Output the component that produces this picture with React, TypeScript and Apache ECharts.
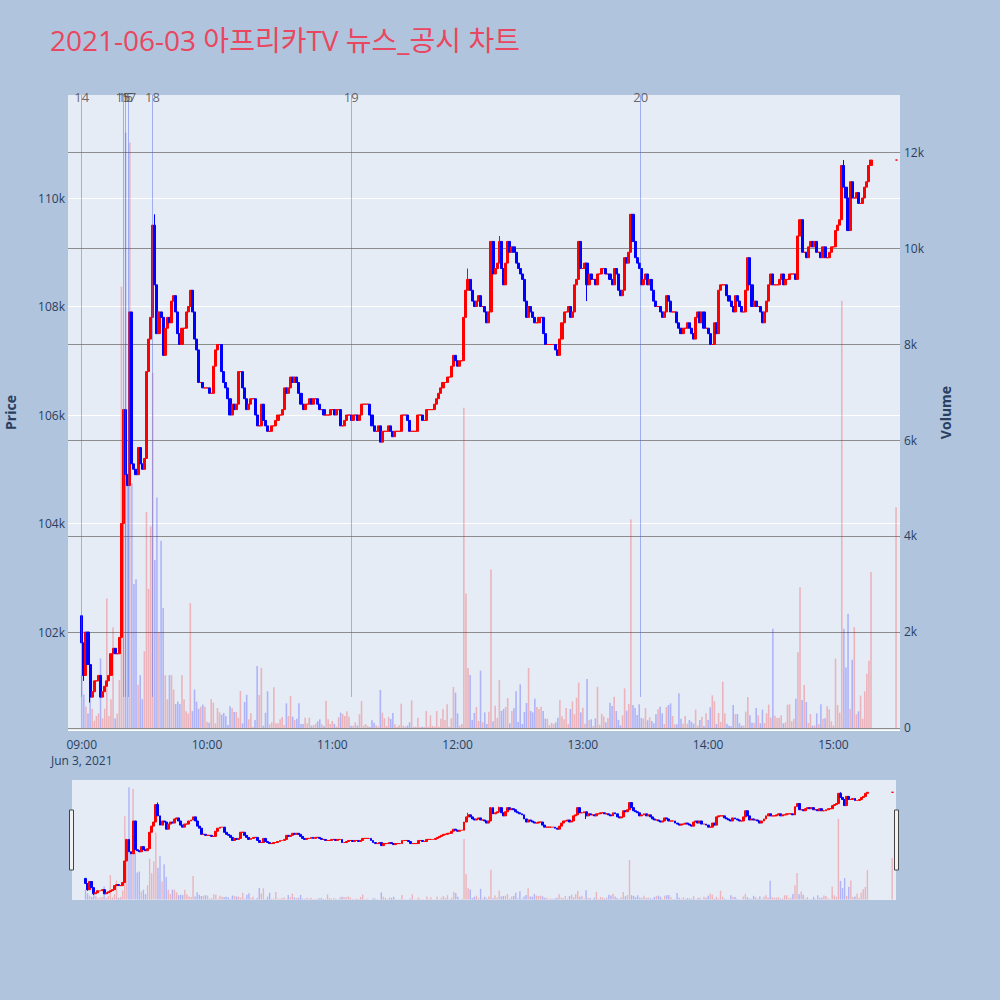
import React, { useEffect, useRef } from 'react';
import * as echarts from 'echarts';

const TITLE = '2021-06-03 아프리카TV 뉴스_공시 차트';
const SESSION_START = Date.UTC(2021, 5, 3, 9, 0);
const MINUTE = 60000;
const FIRST_OPEN = 1023; // hundreds of won

// 1-minute closes from 09:00 to 15:18, in hundreds of won
const closes = [
  1018, 1012, 1020, 1014, 1008, 1009, 1011, 1011, 1012, 1008,
  1009, 1010, 1011, 1012, 1016, 1017, 1016, 1016, 1019, 1040,
  1061, 1049, 1047, 1079, 1051, 1050, 1049, 1054, 1051, 1050,
  1052, 1068, 1074, 1078, 1095, 1084, 1075, 1079, 1078, 1071,
  1076, 1078, 1077, 1081, 1082, 1079, 1075, 1073, 1076, 1076,
  1079, 1080, 1083, 1079, 1074, 1072, 1066, 1066, 1065, 1065,
  1065, 1064, 1064, 1069, 1072, 1073, 1073, 1068, 1066, 1065,
  1063, 1060, 1062, 1061, 1062, 1068, 1068, 1065, 1063, 1061,
  1062, 1063, 1063, 1060, 1058, 1058, 1062, 1059, 1058, 1057,
  1057, 1058, 1058, 1059, 1060, 1060, 1061, 1065, 1064, 1065,
  1067, 1066, 1067, 1066, 1064, 1062, 1061, 1062, 1062, 1063,
  1062, 1063, 1063, 1062, 1061, 1061, 1060, 1060, 1060, 1061,
  1061, 1060, 1061, 1061, 1058, 1058, 1059, 1060, 1060, 1059,
  1060, 1060, 1059, 1060, 1062, 1062, 1062, 1062, 1060, 1058,
  1057, 1057, 1058, 1055, 1057, 1057, 1057, 1058, 1057, 1056,
  1057, 1057, 1057, 1060, 1060, 1060, 1059, 1057, 1057, 1057,
  1057, 1060, 1060, 1059, 1059, 1061, 1061, 1061, 1061, 1062,
  1063, 1064, 1065, 1066, 1066, 1067, 1067, 1069, 1071, 1070,
  1069, 1070, 1070, 1078, 1083, 1085, 1083, 1081, 1080, 1081,
  1082, 1080, 1080, 1079, 1077, 1079, 1092, 1086, 1087, 1088,
  1092, 1087, 1084, 1088, 1092, 1090, 1091, 1090, 1088, 1087,
  1086, 1085, 1081, 1078, 1080, 1079, 1078, 1077, 1077, 1078,
  1078, 1075, 1073, 1073, 1073, 1073, 1073, 1072, 1071, 1074,
  1077, 1079, 1079, 1080, 1078, 1079, 1084, 1085, 1092, 1087,
  1087, 1088, 1084, 1086, 1085, 1085, 1084, 1086, 1086, 1087,
  1087, 1086, 1086, 1085, 1084, 1087, 1086, 1083, 1082, 1083,
  1089, 1088, 1090, 1097, 1092, 1089, 1088, 1087, 1084, 1085,
  1086, 1084, 1085, 1083, 1081, 1080, 1080, 1079, 1078, 1079,
  1082, 1081, 1079, 1079, 1079, 1077, 1076, 1075, 1076, 1076,
  1077, 1076, 1075, 1074, 1078, 1079, 1077, 1079, 1076, 1076,
  1075, 1073, 1073, 1077, 1075, 1083, 1084, 1084, 1084, 1082,
  1081, 1080, 1079, 1082, 1081, 1080, 1079, 1079, 1083, 1089,
  1084, 1080, 1081, 1080, 1080, 1079, 1077, 1079, 1081, 1084,
  1086, 1084, 1084, 1084, 1085, 1086, 1084, 1085, 1085, 1086,
  1086, 1086, 1085, 1093, 1096, 1090, 1090, 1089, 1091, 1092,
  1091, 1092, 1090, 1090, 1089, 1091, 1089, 1089, 1090, 1091,
  1091, 1094, 1095, 1096, 1106, 1102, 1100, 1094, 1103, 1100,
  1100, 1101, 1099, 1099, 1100, 1102, 1103, 1106, 1107,
];

// 1-minute volumes, same minutes as closes
const volumes = [
  1100, 700, 450, 300, 650, 400, 150, 250, 300, 1450,
  200, 400, 2700, 250, 600, 2100, 200, 300, 1000, 9200,
  6500, 12400, 5300, 12200, 5100, 3000, 3100, 900, 1100, 600,
  1600, 4500, 2900, 4200, 7400, 3500, 4800, 2000, 3900, 2500,
  1100, 600, 1100, 1100, 800, 500, 550, 500, 1100, 600,
  350, 300, 2600, 350, 800, 550, 400,
  444, 490, 444, 130, 111, 600, 528, 97, 416, 326,
  278, 313, 250, 60, 451, 410, 333, 333, 215, 770,
  97, 542, 694, 180, 305, 28, 167, 1292, 687, 1250,
  49, 319, 764, 76, 118, 847, 97, 97, 180, 229,
  60, 514, 250, 666, 236, 167, 194, 514, 83, 83,
  215, 97, 215, 49, 62, 90, 139, 180, 76, 42,
  569, 180, 83, 146, 83, 28, 222, 319, 291, 250,
  347, 236, 49, 49, 118, 49, 285, 562, 49, 83,
  42, 21, 160, 111, 55, 28, 791, 319, 201, 42,
  229, 187, 312, 76, 28, 55, 507, 49, 28, 49,
  118, 576, 28, 28, 215, 20, 28, 21, 354, 28,
  264, 42, 28, 354, 28, 194, 389, 167, 493, 28,
  201, 854, 736, 305, 49, 83, 6670, 2800, 1250, 1104,
  167, 312, 437, 146, 1194, 118, 326, 83, 340, 3300,
  139, 465, 208, 1000, 354, 396, 437, 625, 97, 354,
  410, 764, 125, 910, 83, 333, 520, 1250, 354, 326,
  610, 437, 396, 444, 354, 194, 194, 60, 111, 83,
  118, 215, 583, 243, 180, 416, 83, 396, 555, 285,
  632, 945, 326, 423, 90, 1020, 167, 180, 42, 201,
  860, 69, 298, 243, 118, 208, 527, 458, 650, 354,
  167, 55, 264, 826, 361, 500, 4350, 479, 417, 271,
  493, 208, 194, 417, 160, 222, 146, 97, 285,
  389, 444, 305, 83, 437, 479, 513, 250, 76, 76,
  722, 194, 90, 250, 90, 167, 132, 90, 382, 49,
  167, 229, 42, 305, 167, 431, 680, 555, 83, 312,
  125, 965, 305, 90, 49, 35, 479, 292, 292, 97,
  49, 49, 340, 645, 264, 111, 104, 417, 264, 97,
  382, 104, 305, 486, 215, 2070, 257, 208, 215, 264,
  97, 118, 486, 493, 139, 194, 610, 1580, 2930, 583,
  895, 542, 104, 292, 49, 49, 305, 76, 493, 194,
  201, 451, 389, 139, 49, 1445, 479, 319, 8900, 2070,
  1260, 2380, 396, 1420, 2100, 285, 347, 675, 194, 764,
  1130, 1400, 3250,
];

// closing auction at 15:30
const auctionMinute = 390;
const auctionPrice = 1107;
const auctionVolume = 4600;

// visible wicks beyond the bodies (hundreds of won)
const highWicks: Record<number, number> = { 0: 1023, 35: 1097, 185: 1087, 200: 1093, 238: 1092, 263: 1097, 344: 1096, 365: 1107 };
const lowWicks: Record<number, number> = { 1: 1011, 4: 1007, 143: 1055, 242: 1081, 367: 1094 };

// news / disclosure markers
const newsLabels = ['14', '15', '16', '17', '18', '19', '20'];
const newsMinutes = [0, 19.7, 20.9, 22.5, 33.9, 129.1, 267.7];

const P_MIN = 100194;
const P_MAX = 111899;
const V_MIN = -42;
const V_MAX = 13188;
const X_MIN = SESSION_START - 6.2 * MINUTE;
const X_MAX = SESSION_START + 391.5 * MINUTE;

const FONT = '"Open Sans", "Noto Sans CJK KR", sans-serif';
const UP = '#ff0000';
const DOWN = '#0000ff';
const VOL_UP = 'rgba(255,0,0,0.24)';
const VOL_DOWN = 'rgba(0,0,255,0.24)';
const AXIS_TEXT = '#2a3f5f';

function buildRows() {
  const rows = closes.map((c, i) => {
    const o = i === 0 ? FIRST_OPEN : closes[i - 1];
    const h = Math.max(o, c, highWicks[i] ?? 0);
    const l = Math.min(o, c, lowWicks[i] ?? Infinity);
    return { t: SESSION_START + i * MINUTE, o: o * 100, c: c * 100, l: l * 100, h: h * 100, v: volumes[i] ?? 0, up: c >= o };
  });
  rows.push({
    t: SESSION_START + auctionMinute * MINUTE,
    o: auctionPrice * 100, c: auctionPrice * 100, l: auctionPrice * 100, h: auctionPrice * 100,
    v: auctionVolume, up: true,
  });
  return rows;
}

export default function App() {
  const ref = useRef<HTMLDivElement>(null);
  useEffect(() => {
    if (!ref.current) return;
    const chart = echarts.init(ref.current, undefined, { renderer: 'svg' });
    const rows = buildRows();
    const candleData = rows.map((r) => [r.t, r.o, r.c, r.l, r.h]);
    const volData = rows.map((r) => ({ value: [r.t, r.v], itemStyle: { color: r.up ? VOL_UP : VOL_DOWN } }));
    const newsT = newsMinutes.map((m) => SESSION_START + m * MINUTE);

    const fmtTime = (val: number) => {
      const d = new Date(val);
      const s = `${String(d.getUTCHours()).padStart(2, '0')}:${String(d.getUTCMinutes()).padStart(2, '0')}`;
      return val === SESSION_START ? `${s}\nJun 3, 2021` : s;
    };

    const candleStyle = { color: UP, color0: DOWN, borderColor: UP, borderColor0: DOWN, borderWidth: 1 };

    const option: any = {
      animation: false,
      useUTC: true,
      backgroundColor: '#b0c4de',
      textStyle: { fontFamily: FONT },
      title: {
        text: TITLE, left: 45, top: 21,
        textStyle: { color: '#e8475f', fontSize: 28, fontWeight: 'normal', fontFamily: FONT },
      },
      grid: [
        { left: 68, right: 100, top: 95, bottom: 270, show: true, backgroundColor: '#e5ecf6', borderWidth: 0, outerBoundsMode: 'none' },
        { left: 72, right: 104, top: 780, bottom: 100, show: true, backgroundColor: '#e5ecf6', borderWidth: 0, outerBoundsMode: 'none' },
      ],
      xAxis: [
        {
          type: 'time', gridIndex: 0, min: X_MIN, max: X_MAX, splitNumber: 7,
          minInterval: 3600000, maxInterval: 3600000,
          axisLine: { show: false }, axisTick: { show: false }, splitLine: { show: false },
          axisLabel: {
            formatter: fmtTime, color: AXIS_TEXT, fontSize: 12, margin: 6, lineHeight: 16,
            showMinLabel: false, showMaxLabel: false, fontFamily: FONT,
          },
        },
        { type: 'time', gridIndex: 1, min: X_MIN, max: X_MAX, show: false },
      ],
      yAxis: [
        {
          type: 'value', gridIndex: 0, min: P_MIN, max: P_MAX, splitNumber: 6, position: 'left',
          name: 'Price', nameLocation: 'middle', nameGap: 51, nameRotate: 90,
          nameTextStyle: { color: AXIS_TEXT, fontSize: 14, fontWeight: 'bold', fontFamily: FONT },
          axisLine: { show: false }, axisTick: { show: false },
          axisLabel: {
            formatter: (v: number) => `${Math.round(v / 1000)}k`, color: AXIS_TEXT, fontSize: 12, margin: 3,
            showMinLabel: false, showMaxLabel: false, fontFamily: FONT,
          },
          splitLine: { show: true, showMaxLine: false, lineStyle: { color: '#ffffff', width: 1 } },
        },
        {
          type: 'value', gridIndex: 0, min: V_MIN, max: V_MAX, splitNumber: 6, position: 'right',
          name: 'Volume', nameLocation: 'middle', nameGap: 38, nameRotate: 90,
          nameTextStyle: { color: AXIS_TEXT, fontSize: 14, fontWeight: 'bold', fontFamily: FONT },
          axisLine: { show: false }, axisTick: { show: false },
          axisLabel: {
            formatter: (v: number) => (v === 0 ? '0' : `${Math.round(v / 1000)}k`), color: AXIS_TEXT, fontSize: 12, margin: 4,
            showMinLabel: false, showMaxLabel: false, fontFamily: FONT,
          },
          splitLine: { show: true, showMinLine: false, showMaxLine: false, lineStyle: { color: '#8c8c8c', width: 1 } },
        },
        { type: 'value', gridIndex: 1, min: P_MIN, max: P_MAX, show: false },
        { type: 'value', gridIndex: 1, min: V_MIN, max: V_MAX, show: false },
      ],
      series: [
        {
          type: 'bar', name: 'Volume', xAxisIndex: 0, yAxisIndex: 1, data: volData, barWidth: 1.6,
          markLine: {
            silent: true, symbol: ['none', 'none'], label: { show: false },
            lineStyle: { color: 'rgba(70,100,235,0.45)', width: 1, type: 'solid' },
            data: newsT.map((t) => [{ coord: [t, 646] }, { coord: [t, V_MAX] }]),
          },
        },
        {
          type: 'candlestick', name: 'Price', xAxisIndex: 0, yAxisIndex: 0, data: candleData,
          dimensions: ['time', 'open', 'close', 'lowest', 'highest'],
          encode: { x: 0, y: [1, 2, 3, 4] },
          barWidth: 2.6, itemStyle: candleStyle,
        },
        {
          type: 'scatter', name: 'News', xAxisIndex: 0, yAxisIndex: 1, silent: true,
          symbol: 'circle', symbolSize: 1, itemStyle: { color: 'rgba(0,0,0,0)' }, z: 10,
          data: newsT.map((t, i) => [t, 13146, newsLabels[i]]),
          label: {
            show: true, position: 'inside', formatter: (p: any) => p.value[2],
            color: '#444444', fontSize: 13, fontFamily: FONT,
          },
        },
        {
          type: 'bar', name: 'VolumeMini', xAxisIndex: 1, yAxisIndex: 3, data: volData, barWidth: 1.4, silent: true,
        },
        {
          type: 'candlestick', name: 'PriceMini', xAxisIndex: 1, yAxisIndex: 2, data: candleData, silent: true,
          dimensions: ['time', 'open', 'close', 'lowest', 'highest'],
          encode: { x: 0, y: [1, 2, 3, 4] },
          barWidth: 2.4, itemStyle: candleStyle,
        },
      ],
      graphic: [
        { type: 'rect', shape: { x: 69.5, y: 810, width: 4, height: 60 }, style: { fill: '#f2f2f2', stroke: '#444', lineWidth: 1 } },
        { type: 'rect', shape: { x: 894.5, y: 810, width: 4, height: 60 }, style: { fill: '#f2f2f2', stroke: '#444', lineWidth: 1 } },
      ],
    };
    chart.setOption(option);
    return () => chart.dispose();
  }, []);

  return (
    <div
      ref={ref}
      style={{ position: 'fixed', left: 0, top: 0, width: 1000, height: 1000, background: '#b0c4de' }}
    />
  );
}
